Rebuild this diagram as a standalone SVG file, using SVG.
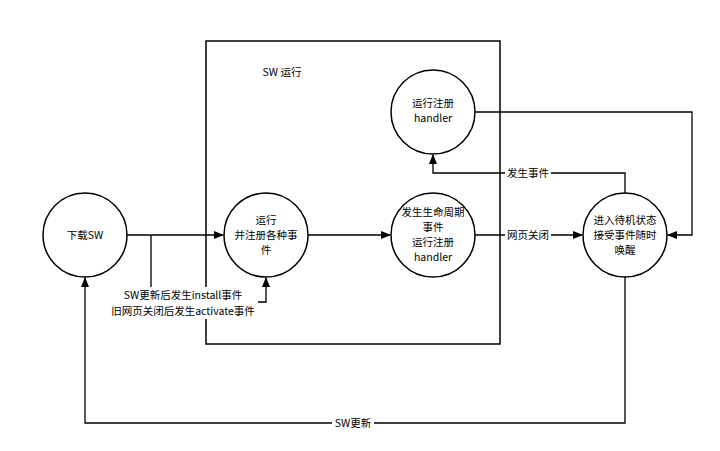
<svg xmlns="http://www.w3.org/2000/svg" width="720" height="451" viewBox="0 0 720 451">
<style>
.n{fill:#fff;stroke:#000;stroke-width:1.5}
.e{fill:none;stroke:#000;stroke-width:1.3}
text{font-family:"Noto Sans CJK SC","Noto Sans",sans-serif;font-size:10.5px;fill:#000;text-anchor:middle}
.lb{fill:#fff}
</style>
<defs><marker id="a" viewBox="0 0 10 10" refX="9" refY="5" markerWidth="10" markerHeight="10" orient="auto" markerUnits="userSpaceOnUse"><path d="M0,1 L10,5 L0,9 Z" fill="#000"/></marker></defs>
<rect width="720" height="451" fill="#fff"/>
<rect x="206" y="41" width="294" height="303" fill="none" stroke="#000" stroke-width="1.5"/>
<text x="282" y="76">SW 运行</text>
<g id="connectors">
<path class="e" d="M127,235 H223" marker-end="url(#a)"/>
<path class="e" d="M151,235 V302 H266 V278" marker-end="url(#a)"/>
<path class="e" d="M308,235 H390" marker-end="url(#a)"/>
<path class="e" d="M475,235 H582" marker-end="url(#a)"/>
<path class="e" d="M625,193 V173 H433 V155" marker-end="url(#a)"/>
<path class="e" d="M475,112 H692 V235 H668" marker-end="url(#a)"/>
<path class="e" d="M625,277 V423 H85 V278" marker-end="url(#a)"/>
<rect class="lb" x="108" y="287" width="150" height="32"/>
<text x="183" y="299">SW更新后发生install事件</text>
<text x="183" y="315">旧网页关闭后发生activate事件</text>
<rect class="lb" x="505" y="166" width="46" height="14"/>
<text x="528" y="177">发生事件</text>
<rect class="lb" x="505" y="228" width="46" height="14"/>
<text x="528" y="239">网页关闭</text>
<rect class="lb" x="332" y="416" width="42" height="14"/>
<text x="353" y="427">SW更新</text>
</g>
<g id="n1"><circle class="n" cx="85" cy="235" r="42"/><text x="85" y="239">下载SW</text></g>
<g id="n2"><circle class="n" cx="266" cy="235" r="42"/><text x="266" y="224">运行</text><text x="266" y="239">并注册各种事</text><text x="266" y="254">件</text></g>
<g id="n3"><circle class="n" cx="433" cy="112" r="42"/><text x="433" y="107">运行注册</text><text x="433" y="122">handler</text></g>
<g id="n4"><circle class="n" cx="433" cy="235" r="42"/><text x="433" y="216">发生生命周期</text><text x="433" y="231">事件</text><text x="433" y="246">运行注册</text><text x="433" y="261">handler</text></g>
<g id="n5"><circle class="n" cx="625" cy="235" r="42"/><text x="625" y="224">进入待机状态</text><text x="625" y="239">接受事件随时</text><text x="625" y="254">唤醒</text></g>
</svg>
